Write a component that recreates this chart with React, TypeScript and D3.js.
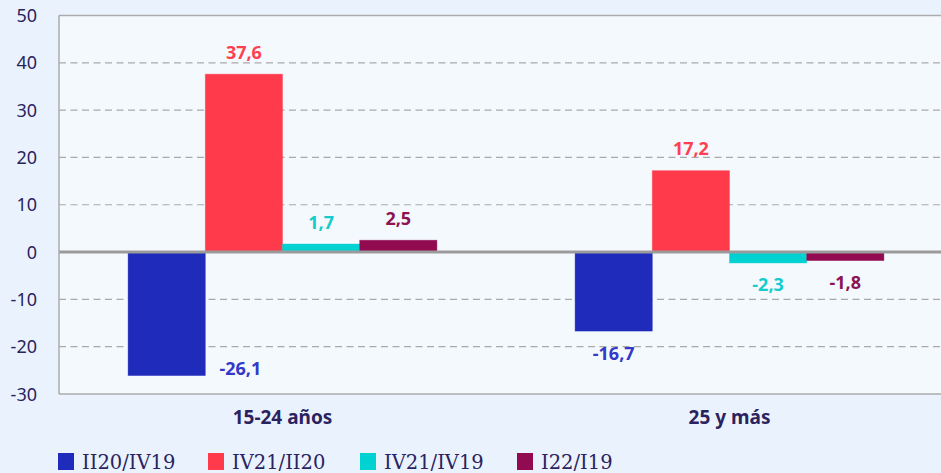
import React from "react";
import * as d3 from "d3";

const categories = ["15-24 años", "25 y más"];
const seriesNames = ["II20/IV19", "IV21/II20", "IV21/IV19", "I22/I19"];
const ii20iv19 = [-26.1, -16.7];
const iv21ii20 = [37.6, 17.2];
const iv21iv19 = [1.7, -2.3];
const i22i19 = [2.5, -1.8];
const seriesValues = [ii20iv19, iv21ii20, iv21iv19, i22i19];
const barColors = ["#1e2bbb", "#ff3a4b", "#00d2d2", "#920a50"];
const labelColors = ["#3338c8", "#ff4050", "#14cccc", "#8c1452"];
const yTicks = [-30, -20, -10, 0, 10, 20, 30, 40, 50];

const W = 941;
const H = 473;
const plotLeft = 59;
const plotRight = 953;
const plotTop = 15.5;
const plotBottom = 394;
const textColor = "#2a2360";
const sansFont = "'Noto Sans', 'Open Sans', sans-serif";

export default function App() {
  const y = d3.scaleLinear().domain([-30, 50]).range([plotBottom, plotTop]);
  const x0 = d3.scaleBand<string>().domain(categories).range([plotLeft, plotRight]).padding(0);
  const x1 = d3
    .scaleBand<string>()
    .domain(seriesNames)
    .range([0, x0.bandwidth()])
    .paddingInner(0)
    .paddingOuter(0.895);

  const fmt = (v: number) => v.toFixed(1).replace(".", ",");
  const legendX = [58, 208, 360, 517];

  return (
    <svg
      width={W}
      height={H}
      style={{ position: "absolute", left: 0, top: 0, display: "block" }}
    >
      <rect x={0} y={0} width={W} height={H} fill="#eaf3fd" />
      <rect
        x={plotLeft}
        y={plotTop}
        width={plotRight - plotLeft}
        height={plotBottom - plotTop}
        fill="#f4f9fe"
      />
      {yTicks
        .filter((t) => t !== 0 && t !== -30 && t !== 50)
        .map((t) => (
          <line
            key={"g" + t}
            x1={plotLeft}
            x2={plotRight}
            y1={y(t)}
            y2={y(t)}
            stroke="#a9a9a9"
            strokeWidth={1.2}
            strokeDasharray="7,4.5"
          />
        ))}
      {categories.map((c, ci) =>
        seriesNames.map((s, si) => {
          const v = seriesValues[si][ci];
          const bx = (x0(c) as number) + (x1(s) as number);
          const bw = x1.bandwidth();
          const top = Math.min(y(v), y(0));
          const h = Math.abs(y(v) - y(0));
          return (
            <rect
              key={c + s}
              x={bx}
              y={top}
              width={bw}
              height={h}
              fill={barColors[si]}
              stroke={barColors[si]}
              strokeOpacity={0.5}
              strokeWidth={0.8}
            />
          );
        })
      )}
      <line x1={plotLeft} x2={plotRight} y1={y(0)} y2={y(0)} stroke="#9b9b9b" strokeWidth={3} />
      <line x1={plotLeft} x2={plotRight} y1={plotTop} y2={plotTop} stroke="#ababab" strokeWidth={1.5} />
      <line x1={plotLeft} x2={plotRight} y1={plotBottom} y2={plotBottom} stroke="#ababab" strokeWidth={1.5} />
      <line x1={plotLeft} x2={plotLeft} y1={plotTop} y2={plotBottom} stroke="#ababab" strokeWidth={1.5} />
      {categories.map((c, ci) =>
        seriesNames.map((s, si) => {
          const v = seriesValues[si][ci];
          const bx = (x0(c) as number) + (x1(s) as number);
          const bw = x1.bandwidth();
          let cx = bx + bw / 2;
          let cy: number;
          if (v >= 0) {
            cy = y(v) - 22;
          } else {
            cy = y(v) + 22;
            if (cy + 9 > plotBottom) {
              cx = bx + bw + 35;
              cy = y(v) - 7;
            }
          }
          return (
            <text
              key={"l" + c + s}
              x={cx}
              y={cy + 6.5}
              textAnchor="middle"
              fontFamily={sansFont}
              fontWeight={700}
              fontSize={18}
              fill={labelColors[si]}
            >
              {fmt(v)}
            </text>
          );
        })
      )}
      {yTicks.map((t) => (
        <text
          key={"t" + t}
          x={37}
          y={y(t) + 6.5}
          textAnchor="end"
          fontFamily={sansFont}
          fontSize={18}
          fill={textColor}
        >
          {t}
        </text>
      ))}
      {categories.map((c) => (
        <text
          key={"c" + c}
          x={(x0(c) as number) + x0.bandwidth() / 2}
          y={424}
          textAnchor="middle"
          fontFamily={sansFont}
          fontWeight={700}
          fontSize={19}
          fill={textColor}
        >
          {c}
        </text>
      ))}
      {seriesNames.map((s, si) => (
        <g key={"lg" + s} transform={`translate(${legendX[si]},453)`}>
          <rect x={0} y={0} width={16} height={17} fill={barColors[si]} />
          <text
            x={24}
            y={15.5}
            fontFamily="'DejaVu Serif', serif"
            fontSize={19.5}
            fill={textColor}
          >
            {s}
          </text>
        </g>
      ))}
    </svg>
  );
}
